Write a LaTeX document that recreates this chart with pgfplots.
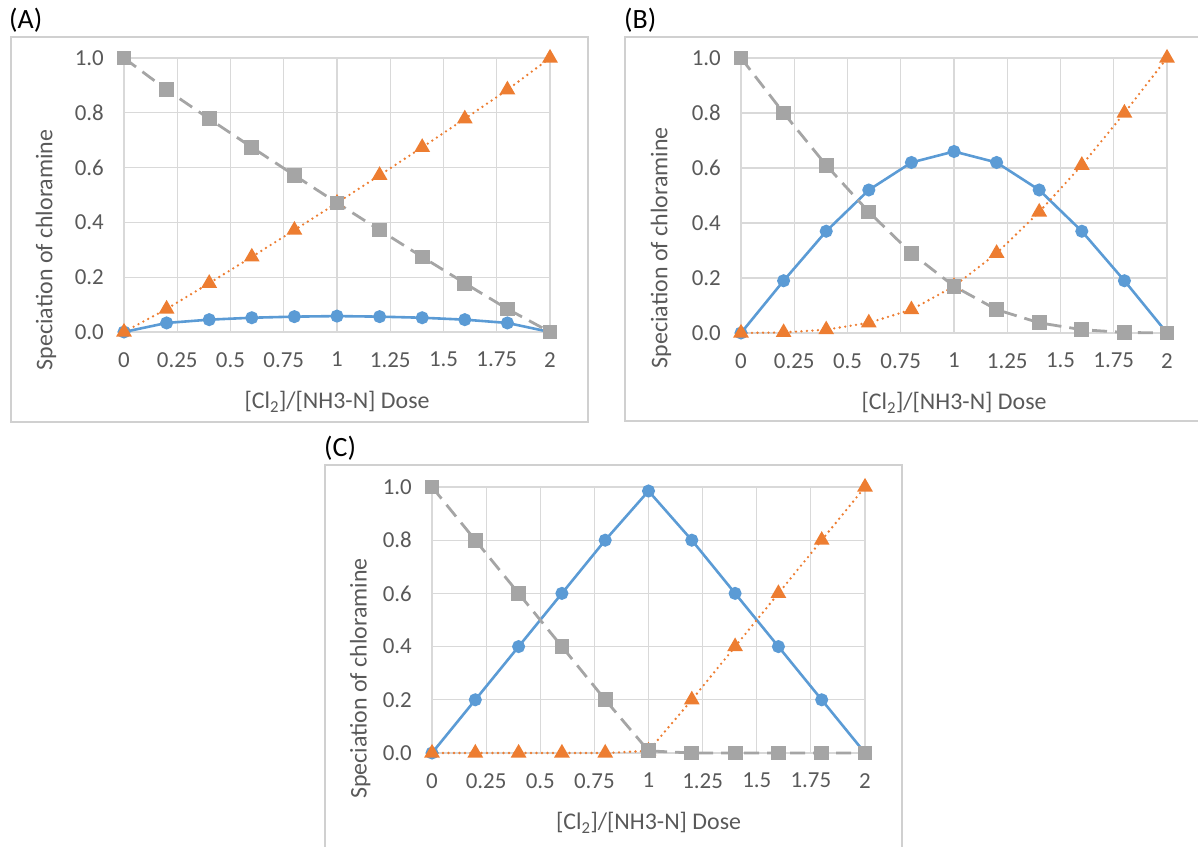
\documentclass[border=0pt]{standalone}
\usepackage{fontspec}
\setmainfont{Carlito}
\usepackage{pgfplots}
\pgfplotsset{compat=1.18}
\definecolor{sblue}{HTML}{5B9BD5}
\definecolor{sorange}{HTML}{ED7D31}
\definecolor{sgray}{HTML}{A5A5A5}
\definecolor{tgray}{HTML}{595959}
\definecolor{ggray}{HTML}{D9D9D9}
\definecolor{bgray}{HTML}{D0D0D0}
\pgfplotsset{
 panel/.style={
   scale only axis, xmin=0,xmax=2,ymin=0,ymax=1,
   axis line style={draw=none},
   xtick={0,0.25,0.5,0.75,1,1.25,1.5,1.75,2},
   xticklabels={0,0.25,0.5,0.75,1,1.25,1.5,1.75,2},
   ytick={0,0.2,0.4,0.6,0.8,1},
   yticklabels={0.0,0.2,0.4,0.6,0.8,1.0},
   major tick length=0pt,
   grid=major, major grid style={ggray, line width=1.2bp},
   ticklabel style={font=\fontsize{23}{27}\selectfont, text=tgray, inner sep=0pt},
   xticklabel style={anchor=north, yshift=-20bp},
   yticklabel style={anchor=east, xshift=-20bp},
   label style={font=\fontsize{24}{28}\selectfont, text=tgray},
   xlabel={[Cl\textsubscript{2}]/[NH3-N] Dose},
   ylabel={Speciation of chloramine},
   xlabel style={at={(axis description cs:0.5,0)}, anchor=center, yshift=-70bp},
   clip=false,
 },
 sBlue/.style={sblue, line width=2.6bp, mark=*, mark size=5.2bp, mark options={solid, fill=sblue}},
 sOrange/.style={sorange, line width=2.6bp, dash pattern=on 0bp off 5.5bp, line cap=round, mark=triangle*, mark size=6.5bp, mark options={solid, fill=sorange}},
 sGray/.style={sgray, line width=2.8bp, dash pattern=on 15bp off 8bp, mark=square*, mark size=6bp, mark options={solid, fill=sgray}},
}
\begin{document}
\begin{tikzpicture}[x=1bp,y=1bp]
\useasboundingbox (0,0) rectangle (1198,847);
% panel frames
\draw[bgray, line width=1.5bp] (11,810) rectangle (588,425);
\draw[bgray, line width=1.5bp] (625,810) rectangle (1203,426);
\draw[bgray, line width=1.5bp] (325,382) rectangle (902,-3);
\node[anchor=west, inner sep=0pt, font=\fontsize{28}{32}\selectfont] at (9,827) {(A)};
\node[anchor=west, inner sep=0pt, font=\fontsize{28}{32}\selectfont] at (624,827) {(B)};
\node[anchor=west, inner sep=0pt, font=\fontsize{28}{32}\selectfont] at (324,399) {(C)};

% (A)
\begin{axis}[panel, at={(124bp,515bp)}, anchor=south west, width=426bp, height=274bp,
  ylabel style={at={(axis description cs:-0.183,0.30)}, anchor=center}]
\addplot[sBlue] coordinates {(0,0) (0.2,0.033) (0.4,0.045) (0.6,0.052) (0.8,0.056) (1.0,0.058) (1.2,0.056) (1.4,0.052) (1.6,0.045) (1.8,0.033) (2.0,0)};
\addplot[sOrange] coordinates {(0,0) (0.2,0.084) (0.4,0.178) (0.6,0.274) (0.8,0.372) (1.0,0.471) (1.2,0.572) (1.4,0.674) (1.6,0.778) (1.8,0.884) (2.0,1.0)};
\addplot[sGray] coordinates {(0,1.0) (0.2,0.884) (0.4,0.778) (0.6,0.674) (0.8,0.572) (1.0,0.471) (1.2,0.372) (1.4,0.274) (1.6,0.178) (1.8,0.084) (2.0,0)};
\end{axis}

% (B)
\begin{axis}[panel, at={(741bp,514bp)}, anchor=south west, width=426bp, height=275bp,
  ylabel style={at={(axis description cs:-0.188,0.31)}, anchor=center}]
\addplot[sBlue] coordinates {(0,0) (0.2,0.19) (0.4,0.37) (0.6,0.52) (0.8,0.62) (1.0,0.66) (1.2,0.62) (1.4,0.52) (1.6,0.37) (1.8,0.19) (2.0,0)};
\addplot[sOrange] coordinates {(0,0) (0.2,0.002) (0.4,0.012) (0.6,0.037) (0.8,0.085) (1.0,0.17) (1.2,0.29) (1.4,0.44) (1.6,0.61) (1.8,0.80) (2.0,1.0)};
\addplot[sGray] coordinates {(0,1.0) (0.2,0.80) (0.4,0.61) (0.6,0.44) (0.8,0.29) (1.0,0.17) (1.2,0.085) (1.4,0.037) (1.6,0.012) (1.8,0.002) (2.0,0)};
\end{axis}

% (C)
\begin{axis}[panel, at={(432bp,94bp)}, anchor=south west, width=433bp, height=266bp,
  ylabel style={at={(axis description cs:-0.166,0.28)}, anchor=center}]
\addplot[sBlue] coordinates {(0,0) (0.2,0.2) (0.4,0.4) (0.6,0.6) (0.8,0.8) (1.0,0.985) (1.2,0.8) (1.4,0.6) (1.6,0.4) (1.8,0.2) (2.0,0)};
\addplot[sOrange] coordinates {(0,0) (0.2,0) (0.4,0) (0.6,0) (0.8,0) (1.0,0.008) (1.2,0.2) (1.4,0.4) (1.6,0.6) (1.8,0.8) (2.0,1.0)};
\addplot[sGray] coordinates {(0,1.0) (0.2,0.8) (0.4,0.6) (0.6,0.4) (0.8,0.2) (1.0,0.008) (1.2,0) (1.4,0) (1.6,0) (1.8,0) (2.0,0)};
\end{axis}
\end{tikzpicture}
\end{document}
